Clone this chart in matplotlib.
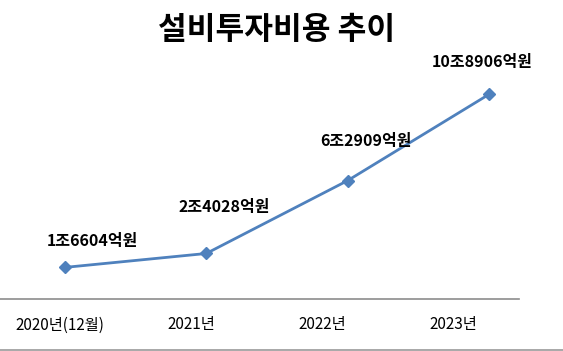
"""설비투자비용 추이 차트."""

import matplotlib

matplotlib.use("Agg")
import matplotlib.pyplot as plt

plt.rcParams["font.family"] = ["Noto Sans CJK KR", "DejaVu Sans"]

# 데이터 (억원)
years = ["2020년(12월)", "2021년", "2022년", "2023년"]
amounts = [16604, 24028, 62909, 108906]
value_labels = ["1조6604억원", "2조4028억원", "6조2909억원", "10조8906억원"]

# 라벨 위치 오프셋 (픽셀)
label_offsets = [(27, 26), (18, 46), (18, 40), (-7, 32)]
table_x = [60, 191, 322, 453]

W, H = 563, 351
fig = plt.figure(figsize=(W / 100, H / 100), dpi=100)
fig.patch.set_facecolor("white")

ax_bottom = 1 - 298.5 / H
ax_top = 1 - 50 / H
ax = fig.add_axes([0, ax_bottom, 1, ax_top - ax_bottom])
ax.set_xlim(-65 / 141.3, (W - 65) / 141.3)
ax.set_ylim(0, (298.5 - 50) / 0.001874)
ax.axis("off")

xs = list(range(len(amounts)))
ax.plot(xs, amounts, color="#4F81BD", lw=2.0, marker="D", ms=5.8,
        markeredgecolor="#4F81BD", markerfacecolor="#4F81BD",
        solid_capstyle="round")

for x, y, txt, (dx, dy) in zip(xs, amounts, value_labels, label_offsets):
    ax.annotate(txt, (x, y), xytext=(dx * 0.72, dy * 0.72),
                textcoords="offset points", ha="center", va="center",
                fontsize=11.5, fontweight="bold", color="black")

fig.text(277 / W, 1 - 30 / H, "설비투자비용 추이", ha="center", va="center",
         fontsize=22.5, fontweight="bold")

# 아래 표 영역
fig.add_artist(plt.Line2D([0, 519 / W], [1 - 298.5 / H] * 2,
                          color="#8c8c8c", lw=1.2))
fig.add_artist(plt.Line2D([0, 1], [1 - 349.5 / H] * 2,
                          color="#9a9a9a", lw=1.2))
for x, name in zip(table_x, years):
    fig.text(x / W, 1 - 325 / H, name, ha="center", va="center",
             fontsize=11, color="black")

fig.savefig("out.png", dpi=100)
